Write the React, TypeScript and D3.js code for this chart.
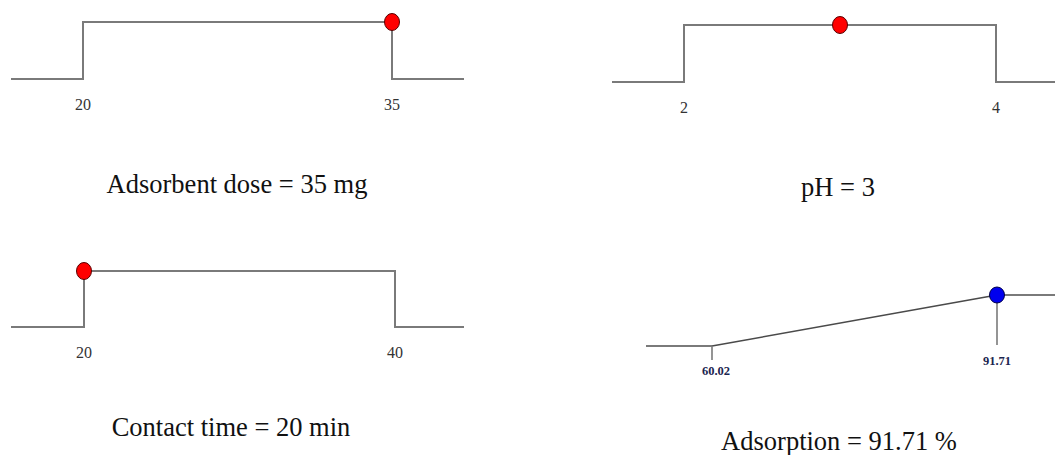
import * as d3 from "d3";

// factor settings (low / high limits and the chosen optimum)
const factorNames = ["Adsorbent dose", "pH", "Contact time"];
const factorUnits = ["mg", "", "min"];
const factorLow = [20, 2, 20];
const factorHigh = [35, 4, 40];
const factorOptimum = [35, 3, 20];

// response
const responseName = "Adsorption";
const responseUnit = "%";
const responseLow = 60.02;
const responseHigh = 91.71;
const responseOptimum = 91.71;

const W = 1055;
const H = 455;
const serif = "'Liberation Serif', 'Times New Roman', serif";

// panel boxes: outer line extent, inner (scale) range, top/base of the ramp
const panels = [
  { x0: 11, x1: 83, x2: 392, x3: 464, top: 22, base: 79, tickY: 110, titleX: 237, titleY: 193 },
  { x0: 612, x1: 684, x2: 996, x3: 1068, top: 25, base: 82, tickY: 113, titleX: 838, titleY: 196 },
  { x0: 11, x1: 84, x2: 395, x3: 464, top: 271, base: 327, tickY: 358, titleX: 231, titleY: 436 },
];
const respPanel = { x0: 646, x1: 712, x2: 997, x3: 1070, top: 295, base: 346, titleX: 839, titleY: 450 };

function FactorPanel({ i }: { i: number }) {
  const p = panels[i];
  const x = d3.scaleLinear().domain([factorLow[i], factorHigh[i]]).range([p.x1, p.x2]);
  const y = d3.scaleLinear().domain([0, 1]).range([p.base, p.top]);
  const lo = x.invert(p.x0);
  const hi = x.invert(p.x3);
  const pts: [number, number][] = [
    [lo, 0],
    [factorLow[i], 0],
    [factorLow[i], 1],
    [factorHigh[i], 1],
    [factorHigh[i], 0],
    [hi, 0],
  ];
  const line = d3
    .line<[number, number]>()
    .x((d) => x(d[0]))
    .y((d) => y(d[1]));
  const unit = factorUnits[i] ? ` ${factorUnits[i]}` : "";
  return (
    <g>
      <path d={line(pts) || ""} fill="none" stroke="#7a7a7a" strokeWidth={2} />
      {[factorLow[i], factorHigh[i]].map((v) => (
        <text
          key={v}
          x={x(v)}
          y={p.tickY}
          textAnchor="middle"
          fontFamily={serif}
          fontSize={16}
          fill="#333"
        >
          {v}
        </text>
      ))}
      <ellipse
        cx={x(factorOptimum[i])}
        cy={y(1)}
        rx={7.5}
        ry={8.5}
        fill="#ff0000"
        stroke="#5a0000"
        strokeWidth={1}
      />
      <text
        x={p.titleX}
        y={p.titleY}
        textAnchor="middle"
        fontFamily={serif}
        fontSize={26.5}
        fill="#111"
      >
        {`${factorNames[i]} = ${factorOptimum[i]}${unit}`}
      </text>
    </g>
  );
}

function ResponsePanel() {
  const p = respPanel;
  const x = d3.scaleLinear().domain([responseLow, responseHigh]).range([p.x1, p.x2]);
  const y = d3.scaleLinear().domain([0, 1]).range([p.base, p.top]);
  const pts: [number, number][] = [
    [x.invert(p.x0), 0],
    [responseLow, 0],
    [responseHigh, 1],
    [x.invert(p.x3), 1],
  ];
  const line = d3
    .line<[number, number]>()
    .x((d) => x(d[0]))
    .y((d) => y(d[1]));
  return (
    <g>
      <path
        d={line(pts.slice(0, 2)) || ""}
        fill="none"
        stroke="#7a7a7a"
        strokeWidth={2}
      />
      <path
        d={line(pts.slice(1, 3)) || ""}
        fill="none"
        stroke="#4a4a4a"
        strokeWidth={1.6}
      />
      <path
        d={line(pts.slice(2)) || ""}
        fill="none"
        stroke="#7a7a7a"
        strokeWidth={2}
      />
      <line x1={x(responseLow)} x2={x(responseLow)} y1={y(0)} y2={y(0) + 14} stroke="#7a7a7a" strokeWidth={1.6} />
      <line x1={x(responseHigh)} x2={x(responseHigh)} y1={y(1)} y2={y(0) - 1} stroke="#7a7a7a" strokeWidth={1.6} />
      <text
        x={x(responseLow) + 4}
        y={y(0) + 29}
        textAnchor="middle"
        fontFamily={serif}
        fontWeight="bold"
        fontSize={12.5}
        fill="#1c2550"
      >
        {responseLow.toFixed(2)}
      </text>
      <text
        x={x(responseHigh)}
        y={y(0) + 19}
        textAnchor="middle"
        fontFamily={serif}
        fontWeight="bold"
        fontSize={12.5}
        fill="#1c2550"
      >
        {responseHigh.toFixed(2)}
      </text>
      <ellipse
        cx={x(responseOptimum)}
        cy={y(1)}
        rx={7.5}
        ry={8}
        fill="#0000ee"
        stroke="#00004a"
        strokeWidth={1}
      />
      <text
        x={p.titleX}
        y={p.titleY}
        textAnchor="middle"
        fontFamily={serif}
        fontSize={26.5}
        fill="#111"
      >
        {`${responseName} = ${responseOptimum.toFixed(2)} ${responseUnit}`}
      </text>
    </g>
  );
}

export default function App() {
  return (
    <svg
      width={W}
      height={H}
      style={{ position: "absolute", left: 0, top: 0, background: "#fff" }}
    >
      {factorNames.map((_, i) => (
        <FactorPanel key={i} i={i} />
      ))}
      <ResponsePanel />
    </svg>
  );
}
